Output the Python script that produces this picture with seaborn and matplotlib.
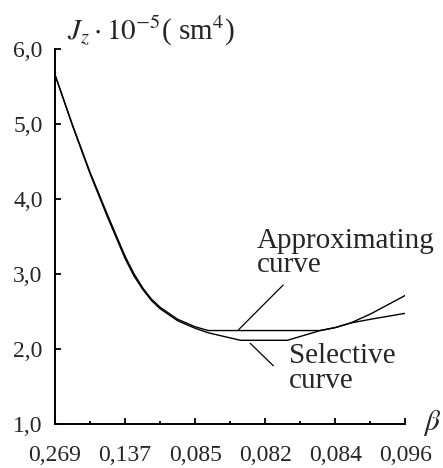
import matplotlib
matplotlib.use("Agg")
import matplotlib.pyplot as plt
import seaborn as sns
import pandas as pd

# ---- data (x is the position along the category axis, 0..10) ----
tick_labels = ["0,269", "0,137", "0,085", "0,082", "0,084", "0,096"]
y_tick_labels = ["1,0", "2,0", "3,0", "4,0", "5,0", "6,0"]
y_ticks = [1, 2, 3, 4, 5, 6]

approx_x = [0, 0.5, 1, 1.5, 2, 2.25, 2.5, 2.75, 3, 3.5, 4, 4.37, 5, 6, 7, 7.57, 8, 8.43, 9, 10]
approx_y = [5.66, 4.99, 4.36, 3.79, 3.24, 3.01, 2.82, 2.67, 2.56, 2.4, 2.3, 2.25,
            2.25, 2.25, 2.25, 2.25, 2.29, 2.35, 2.47, 2.72]

select_x = [0, 0.5, 1, 1.5, 2, 2.25, 2.5, 2.75, 3, 3.5, 4, 4.37, 5.29, 6.63, 7.57, 8, 8.43, 9, 10]
select_y = [5.66, 4.98, 4.34, 3.76, 3.21, 2.98, 2.8, 2.65, 2.54, 2.38, 2.28, 2.22,
            2.12, 2.12, 2.25, 2.29, 2.35, 2.4, 2.48]

df = pd.concat([
    pd.DataFrame({"x": approx_x, "y": approx_y, "curve": "Approximating"}),
    pd.DataFrame({"x": select_x, "y": select_y, "curve": "Selective"}),
], ignore_index=True)

sns.set_theme(style="white")
plt.rcParams["font.family"] = ["Liberation Serif", "DejaVu Serif"]
plt.rcParams["mathtext.fontset"] = "stix"

fig = plt.figure(figsize=(4.43, 4.68), dpi=100)
ax = fig.add_axes([0.1242, 0.0934, 0.9153 - 0.1242, 0.8947 - 0.0934])

sns.lineplot(data=df, x="x", y="y", hue="curve", units="curve", estimator=None,
             palette={"Approximating": "black", "Selective": "black"},
             linewidth=1.0, legend=False, ax=ax, sort=False)

ax.set_xlim(0, 10)
ax.set_ylim(1, 6)
ax.set_xlabel("")
ax.set_ylabel("")

ax.set_xticks([0, 2, 4, 6, 8, 10])
ax.set_xticklabels(tick_labels)
ax.set_xticks([1, 3, 5, 7, 9], minor=True)
ax.set_yticks(y_ticks)
ax.set_yticklabels(y_tick_labels)

ax.tick_params(axis="x", which="major", direction="in", length=4, width=1.3,
               color="black", labelsize=17, pad=15, bottom=True)
ax.tick_params(axis="x", which="minor", direction="in", length=2.5, width=1.3,
               color="black", bottom=True)
ax.tick_params(axis="y", which="major", direction="in", length=4, width=1.3,
               color="black", labelsize=17, pad=9, left=True)

for side in ("top", "right"):
    ax.spines[side].set_visible(False)
for side in ("left", "bottom"):
    ax.spines[side].set_color("black")
    ax.spines[side].set_linewidth(1.4)

# pointer lines for annotations
ax.plot([6.51, 5.23], [2.857, 2.257], color="black", lw=0.9)
ax.plot([5.57, 6.23], [2.08, 1.78], color="black", lw=0.9)

ax.text(5.76, 3.35, "Approximating", fontsize=21, va="baseline", ha="left")
ax.text(5.76, 3.035, "curve", fontsize=21, va="baseline", ha="left")
ax.text(6.67, 1.817, "Selective", fontsize=21, va="baseline", ha="left")
ax.text(6.67, 1.484, "curve", fontsize=21, va="baseline", ha="left")

# axis titles
fig.text(67 / 443, 1 - 40 / 468, r"$J_z\cdot10^{-5}$( sm$^4$)", fontsize=21,
         va="baseline", ha="left")
fig.text(423 / 443, 1 - 430 / 468, r"$\beta$", fontsize=21, va="baseline", ha="left")

fig.savefig("out.png", dpi=100, facecolor="white")
